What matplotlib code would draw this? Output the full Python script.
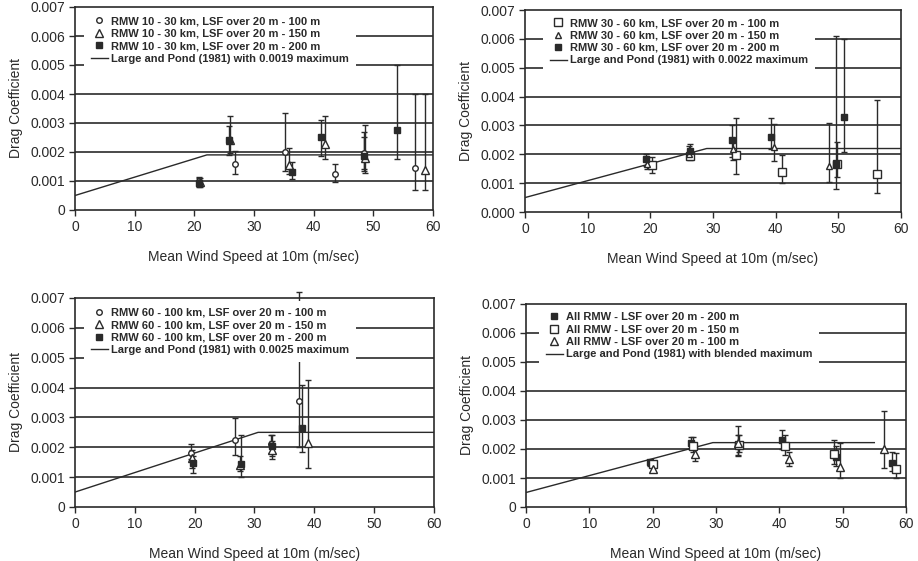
import matplotlib
matplotlib.use("Agg")
import matplotlib.pyplot as plt

plt.rcParams['font.family'] = ['Liberation Sans', 'DejaVu Sans']

INK = '#2a2a2a'

# ---------------------------------------------------------------------------
# Data (wind speed m/s, drag coefficient, error range)
# ---------------------------------------------------------------------------

# Panel 1: RMW 10 - 30 km
p1_100_x  = [20.8, 26.8, 35.2, 43.6, 48.4, 56.9]
p1_100_y  = [0.00100, 0.00159, 0.00201, 0.00123, 0.00195, 0.00146]
p1_100_lo = [0.00085, 0.00123, 0.00133, 0.00095, 0.00135, 0.00070]
p1_100_hi = [0.00115, 0.00205, 0.00333, 0.00160, 0.00270, 0.00400]

p1_150_x  = [20.9, 26.0, 35.8, 41.9, 48.6, 58.6]
p1_150_y  = [0.00095, 0.00243, 0.00155, 0.00228, 0.00180, 0.00138]
p1_150_lo = [0.00080, 0.00195, 0.00125, 0.00175, 0.00128, 0.00070]
p1_150_hi = [0.00110, 0.00325, 0.00215, 0.00325, 0.00293, 0.00400]

p1_200_x  = [20.7, 25.8, 36.4, 41.3, 48.5, 54.0]
p1_200_y  = [0.00092, 0.00240, 0.00132, 0.00250, 0.00186, 0.00276]
p1_200_lo = [0.00080, 0.00190, 0.00108, 0.00185, 0.00140, 0.00175]
p1_200_hi = [0.00110, 0.00290, 0.00165, 0.00310, 0.00250, 0.00500]

p1_lp_x = [0, 22.1, 60]
p1_lp_y = [0.0005, 0.0019, 0.0019]

# Panel 2: RMW 30 - 60 km
p2_100_x  = [20.3, 26.3, 33.6, 41.0, 49.8, 56.2]
p2_100_y  = [0.00163, 0.00195, 0.00197, 0.00139, 0.00167, 0.00133]
p2_100_lo = [0.00135, 0.00180, 0.00130, 0.00102, 0.00122, 0.00067]
p2_100_hi = [0.00192, 0.00220, 0.00325, 0.00198, 0.00244, 0.00387]

p2_150_x  = [19.5, 26.2, 33.2, 39.8, 48.5]
p2_150_y  = [0.00165, 0.00200, 0.00220, 0.00226, 0.00161]
p2_150_lo = [0.00150, 0.00185, 0.00180, 0.00178, 0.00103]
p2_150_hi = [0.00190, 0.00230, 0.00250, 0.00305, 0.00310]

p2_200_x  = [19.3, 26.4, 33.0, 39.2, 49.6, 50.9]
p2_200_y  = [0.00185, 0.00210, 0.00250, 0.00260, 0.00167, 0.00330]
p2_200_lo = [0.00160, 0.00190, 0.00190, 0.00220, 0.00078, 0.00207]
p2_200_hi = [0.00200, 0.00235, 0.00300, 0.00325, 0.00610, 0.00600]

p2_lp_x = [0, 29.0, 60]
p2_lp_y = [0.0005, 0.0022, 0.0022]

# Panel 3: RMW 60 - 100 km
p3_100_x  = [19.4, 26.8, 32.7, 37.4]
p3_100_y  = [0.00180, 0.00225, 0.00210, 0.00356]
p3_100_lo = [0.00160, 0.00174, 0.00180, 0.00200]
p3_100_hi = [0.00210, 0.00297, 0.00240, 0.00720]

p3_150_x  = [19.6, 27.5, 33.0, 38.9]
p3_150_y  = [0.00165, 0.00140, 0.00190, 0.00213]
p3_150_lo = [0.00130, 0.00120, 0.00160, 0.00130]
p3_150_hi = [0.00190, 0.00170, 0.00220, 0.00425]

p3_200_x  = [19.8, 27.8, 32.9, 38.0]
p3_200_y  = [0.00148, 0.00145, 0.00205, 0.00265]
p3_200_lo = [0.00115, 0.00100, 0.00170, 0.00185]
p3_200_hi = [0.00170, 0.00240, 0.00240, 0.00410]

p3_lp_x = [0, 30.6, 60]
p3_lp_y = [0.0005, 0.0025, 0.0025]

# Panel 4: all RMW
p4_200_x  = [19.5, 26.1, 33.5, 40.4, 48.9, 57.8]
p4_200_y  = [0.00155, 0.00220, 0.00215, 0.00230, 0.00173, 0.00152]
p4_200_lo = [0.00140, 0.00200, 0.00175, 0.00200, 0.00140, 0.00125]
p4_200_hi = [0.00160, 0.00240, 0.00280, 0.00265, 0.00210, 0.00190]

p4_150_x  = [20.0, 26.4, 33.6, 40.9, 48.6, 58.4]
p4_150_y  = [0.00150, 0.00210, 0.00215, 0.00210, 0.00182, 0.00132]
p4_150_lo = [0.00140, 0.00190, 0.00190, 0.00180, 0.00150, 0.00100]
p4_150_hi = [0.00160, 0.00240, 0.00250, 0.00250, 0.00230, 0.00185]

p4_100_x  = [20.0, 26.7, 33.5, 41.5, 49.6, 56.6]
p4_100_y  = [0.00132, 0.00184, 0.00220, 0.00165, 0.00138, 0.00200]
p4_100_lo = [0.00125, 0.00158, 0.00180, 0.00140, 0.00100, 0.00136]
p4_100_hi = [0.00140, 0.00210, 0.00250, 0.00190, 0.00220, 0.00330]

p4_lp_x = [0, 29.5, 55]
p4_lp_y = [0.0005, 0.00222, 0.00222]

x_ticks = [0, 10, 20, 30, 40, 50, 60]
y_ticks = [0, 0.001, 0.002, 0.003, 0.004, 0.005, 0.006, 0.007]
y_labels = ['0', '0.001', '0.002', '0.003', '0.004', '0.005', '0.006', '0.007']
y_labels_p2 = ['0.000', '0.001', '0.002', '0.003', '0.004', '0.005', '0.006', '0.007']

# marker styles: (marker, size, filled)
OPEN_CIRCLE = ('o', 4, False)
OPEN_TRI = ('^', 5.5, False)
SMALL_TRI = ('^', 4, False)
OPEN_SQ = ('s', 6, False)
FILLED_SQ = ('s', 4.5, True)


def draw_panel(ax, series, lp_x, lp_y, lp_label, ylabels, leg_anchor, clip=True):
    # horizontal grid lines (Excel style)
    for yv in y_ticks[1:-1]:
        ax.axhline(yv, color=INK, lw=1.2, zorder=1)

    handles = []
    for x, y, lo, hi, style, label in series:
        yerr = [[yy - l for yy, l in zip(y, lo)], [h - yy for yy, h in zip(y, hi)]]
        eb = ax.errorbar(x, y, yerr=yerr, fmt='none', ecolor=INK, elinewidth=1,
                         capsize=2.5, capthick=1, zorder=3)
        for art in eb.lines[1] + eb.lines[2]:
            art.set_clip_on(clip)
        marker, ms, filled = style
        h, = ax.plot(x, y, ls='none', marker=marker, ms=ms, mew=1,
                     mec=INK, mfc=INK if filled else 'white', zorder=4,
                     label=label)
        handles.append(h)

    lp, = ax.plot(lp_x, lp_y, color=INK, lw=1, zorder=2, label=lp_label)
    handles.append(lp)

    ax.set_xlim(0, 60)
    ax.set_ylim(0, 0.007)
    ax.set_xticks(x_ticks)
    ax.set_yticks(y_ticks)
    ax.set_yticklabels(ylabels)
    ax.tick_params(direction='out', length=4, width=1, colors=INK,
                   labelsize=10, pad=3)
    for sp in ax.spines.values():
        sp.set_color(INK)
        sp.set_linewidth(1.2)
        sp.set_zorder(6)   # keep the plot frame above the white legend box
    ax.set_xlabel('Mean Wind Speed at 10m (m/sec)', fontsize=10, color=INK,
                  labelpad=12)
    ax.set_ylabel('Drag Coefficient', fontsize=10, color=INK, labelpad=5)

    leg = ax.legend(handles=handles, loc='upper left', bbox_to_anchor=leg_anchor,
                    frameon=True, fancybox=False, framealpha=1,
                    facecolor='white', edgecolor='none', borderpad=0.6,
                    labelspacing=0.22, handlelength=1.55, handletextpad=0.3,
                    borderaxespad=0.0, prop={'size': 8, 'weight': 'bold'})
    for t in leg.get_texts():
        t.set_color(INK)
    leg.set_zorder(5)


fig = plt.figure(figsize=(9.18, 5.61), dpi=100)
W, H = 918, 561


def axes_px(left, top, right, bottom):
    return fig.add_axes([left / W, 1 - bottom / H, (right - left) / W, (bottom - top) / H])


ax1 = axes_px(75, 7, 433, 210)
ax2 = axes_px(525, 10, 901, 212)
ax3 = axes_px(75, 298, 434, 507)
ax4 = axes_px(526, 304, 906, 507)

draw_panel(ax1, [
    (p1_100_x, p1_100_y, p1_100_lo, p1_100_hi, OPEN_CIRCLE, 'RMW 10 - 30 km, LSF over 20 m - 100 m'),
    (p1_150_x, p1_150_y, p1_150_lo, p1_150_hi, OPEN_TRI, 'RMW 10 - 30 km, LSF over 20 m - 150 m'),
    (p1_200_x, p1_200_y, p1_200_lo, p1_200_hi, FILLED_SQ, 'RMW 10 - 30 km, LSF over 20 m - 200 m'),
], p1_lp_x, p1_lp_y, 'Large and Pond (1981) with 0.0019 maximum', y_labels, (0.025, 0.987))

draw_panel(ax2, [
    (p2_100_x, p2_100_y, p2_100_lo, p2_100_hi, OPEN_SQ, 'RMW 30 - 60 km, LSF over 20 m - 100 m'),
    (p2_150_x, p2_150_y, p2_150_lo, p2_150_hi, SMALL_TRI, 'RMW 30 - 60 km, LSF over 20 m - 150 m'),
    (p2_200_x, p2_200_y, p2_200_lo, p2_200_hi, FILLED_SQ, 'RMW 30 - 60 km, LSF over 20 m - 200 m'),
], p2_lp_x, p2_lp_y, 'Large and Pond (1981) with 0.0022 maximum', y_labels_p2, (0.048, 0.993))

draw_panel(ax3, [
    (p3_100_x, p3_100_y, p3_100_lo, p3_100_hi, OPEN_CIRCLE, 'RMW 60 - 100 km, LSF over 20 m - 100 m'),
    (p3_150_x, p3_150_y, p3_150_lo, p3_150_hi, OPEN_TRI, 'RMW 60 - 100 km, LSF over 20 m - 150 m'),
    (p3_200_x, p3_200_y, p3_200_lo, p3_200_hi, FILLED_SQ, 'RMW 60 - 100 km, LSF over 20 m - 200 m'),
], p3_lp_x, p3_lp_y, 'Large and Pond (1981) with 0.0025 maximum', y_labels, (0.025, 0.985), clip=False)

draw_panel(ax4, [
    (p4_200_x, p4_200_y, p4_200_lo, p4_200_hi, FILLED_SQ, 'All RMW - LSF over 20 m - 200 m'),
    (p4_150_x, p4_150_y, p4_150_lo, p4_150_hi, OPEN_SQ, 'All RMW - LSF over 20 m - 150 m'),
    (p4_100_x, p4_100_y, p4_100_lo, p4_100_hi, OPEN_TRI, 'All RMW - LSF over 20 m - 100 m'),
], p4_lp_x, p4_lp_y, 'Large and Pond (1981) with blended maximum', y_labels, (0.034, 0.993))

fig.savefig('out.png', dpi=100)
